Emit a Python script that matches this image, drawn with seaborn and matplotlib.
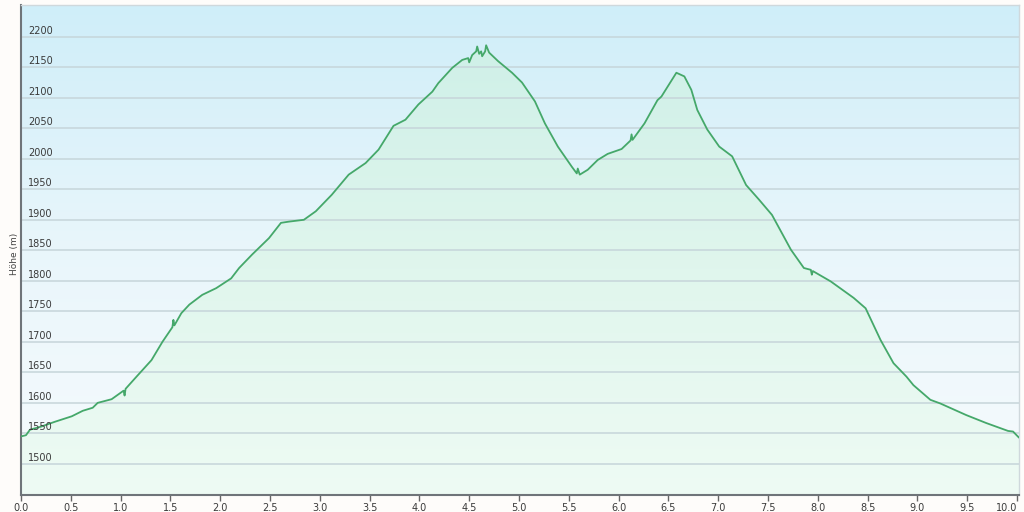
import numpy as np
import pandas as pd
import matplotlib
matplotlib.use("Agg")
import matplotlib.pyplot as plt
import seaborn as sns
from matplotlib.colors import LinearSegmentedColormap

# ---- data ----
distance_km = [0.00, 0.05, 0.09, 0.20, 0.34, 0.51, 0.62, 0.72, 0.77, 0.91, 1.03, 1.04, 1.05,
               1.16, 1.31, 1.42, 1.52, 1.53, 1.54, 1.61, 1.69, 1.82, 1.96, 2.11, 2.19, 2.32,
               2.49, 2.61, 2.69, 2.84, 2.96, 3.12, 3.29, 3.46, 3.59, 3.74, 3.86, 3.99, 4.13,
               4.19, 4.33, 4.43, 4.49, 4.50, 4.53, 4.57, 4.58, 4.60, 4.62, 4.63, 4.66, 4.67,
               4.70, 4.79, 4.93, 5.03, 5.16, 5.26, 5.39, 5.53, 5.58, 5.59, 5.61, 5.69, 5.79,
               5.89, 6.03, 6.12, 6.13, 6.14, 6.26, 6.39, 6.43, 6.58, 6.66, 6.73, 6.79, 6.89,
               7.01, 7.14, 7.28, 7.41, 7.54, 7.73, 7.86, 7.93, 7.94, 7.95, 8.13, 8.36, 8.48,
               8.63, 8.76, 8.89, 8.96, 9.13, 9.23, 9.49, 9.69, 9.91, 9.96, 10.02]
elevation_m = [1545, 1547, 1556, 1561, 1569, 1578, 1587, 1592, 1600, 1606, 1620, 1612, 1623,
               1643, 1670, 1700, 1724, 1736, 1727, 1747, 1761, 1777, 1788, 1804, 1821, 1843,
               1870, 1895, 1897, 1900, 1914, 1941, 1974, 1993, 2015, 2054, 2064, 2089, 2110,
               2124, 2149, 2162, 2165, 2158, 2170, 2176, 2184, 2172, 2176, 2168, 2176, 2186,
               2174, 2160, 2141, 2125, 2094, 2058, 2020, 1987, 1976, 1984, 1974, 1982, 1998,
               2008, 2016, 2030, 2040, 2031, 2058, 2096, 2102, 2141, 2135, 2113, 2080, 2048,
               2020, 2004, 1957, 1933, 1908, 1851, 1821, 1818, 1810, 1816, 1799, 1772, 1755,
               1703, 1665, 1643, 1629, 1605, 1599, 1580, 1567, 1554, 1553, 1543]
x_ticks = [0.0, 0.5, 1.0, 1.5, 2.0, 2.5, 3.0, 3.5, 4.0, 4.5, 5.0, 5.5, 6.0, 6.5, 7.0,
           7.5, 8.0, 8.5, 9.0, 9.5, 10.0]
y_ticks = [1500, 1550, 1600, 1650, 1700, 1750, 1800, 1850, 1900, 1950, 2000, 2050,
           2100, 2150, 2200]
y_label = "Höhe (m)"

df = pd.DataFrame({"km": distance_km, "m": elevation_m})

sns.set_theme(style="white")
plt.rcParams["font.family"] = ["DejaVu Sans"]

fig = plt.figure(figsize=(10.24, 5.12), dpi=100, facecolor="#fefcfa")
ax = fig.add_axes([21 / 1024, 17 / 512, (1019 - 21) / 1024, (495 - 5) / 512])

xmin, xmax = 0.0, 10.02
ymin, ymax = 1449, 2252
ax.set_xlim(xmin, xmax)
ax.set_ylim(ymin, ymax)

# background gradient (light blue at top -> near white at bottom)
bg_cmap = LinearSegmentedColormap.from_list("bg", ["#f7fbfd", "#e9f6fb", "#cfeef9"])
grad = np.linspace(0, 1, 256).reshape(-1, 1)
ax.imshow(grad, extent=[xmin, xmax, ymin, ymax], origin="lower", aspect="auto",
          cmap=bg_cmap, zorder=0)

# filled area with light green gradient, clipped to the profile
fill = ax.fill_between(df["km"], df["m"], ymin, color="none", zorder=2)
fill_cmap = LinearSegmentedColormap.from_list("fill", ["#eefbf4", "#e0f6ed", "#cff0e8"])
im = ax.imshow(grad, extent=[xmin, xmax, ymin, 2190], origin="lower", aspect="auto",
               cmap=fill_cmap, zorder=2)
im.set_clip_path(fill.get_paths()[0], transform=ax.transData)

# grid lines
for yt in y_ticks:
    ax.axhline(yt, color="#c6d5da", lw=1.1, zorder=2.5)

sns.lineplot(data=df, x="km", y="m", ax=ax, color="#45a86a", lw=1.3, zorder=4,
             estimator=None, sort=False)

# y tick labels inside the plot, just above the grid lines
ax.set_yticks(y_ticks)
ax.set_yticklabels([])
ax.tick_params(axis="y", length=0)
for yt in y_ticks:
    ax.text(0.07, yt + 1.5, str(yt), fontsize=7, color="#3a3a3a", ha="left",
            va="bottom", zorder=5)

ax.set_xticks(x_ticks)
ax.set_xticklabels([f"{t:.1f}" for t in x_ticks], fontsize=7, color="#3a3a3a")
ax.tick_params(axis="x", direction="out", length=4, width=1, color="#666666", pad=2,
               bottom=True)
ax.get_xticklabels()[-1].set_ha("right")

ax.set_xlabel("")
ax.set_ylabel("")
fig.text(14 / 1024, 1 - 254 / 512, y_label, rotation=90, fontsize=6.5, color="#444444",
         ha="center", va="center")

for side in ["left", "bottom"]:
    ax.spines[side].set_color("#6f7479")
    ax.spines[side].set_linewidth(1.5)
for side in ["top", "right"]:
    ax.spines[side].set_color("#cfd8dc")
    ax.spines[side].set_linewidth(1.0)

fig.savefig("out.png", dpi=100, facecolor=fig.get_facecolor())
